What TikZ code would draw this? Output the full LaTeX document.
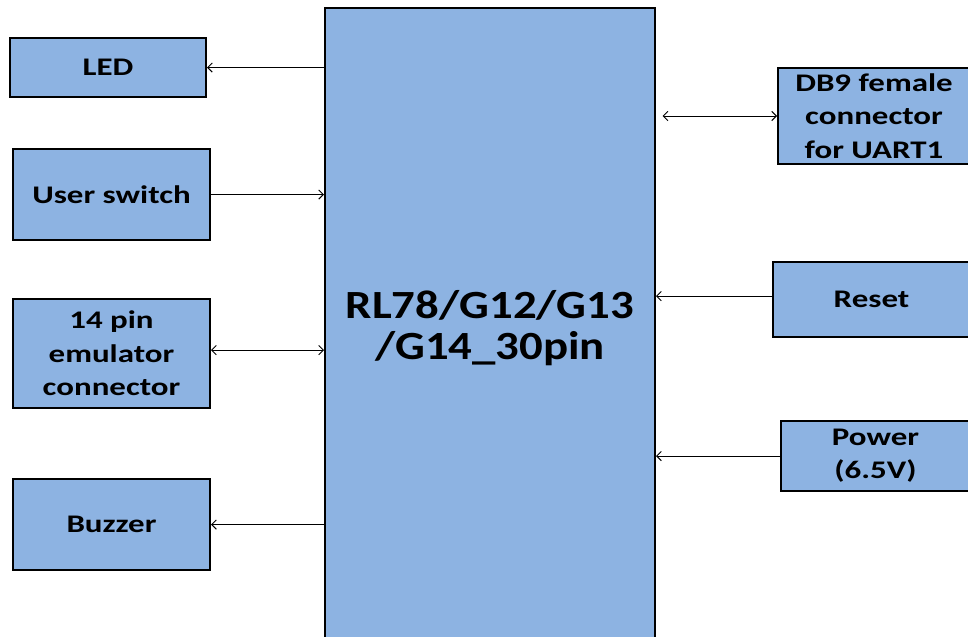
\documentclass[tikz,border=0pt]{standalone}
\usepackage{fontspec}
\setmainfont{Carlito}
\newfontfamily\boxfont[FakeStretch=1.3]{Carlito}
\newfontfamily\mcufont[FakeStretch=1.17]{Carlito}
\usetikzlibrary{positioning, arrows.meta}
\definecolor{BoxBlue}{HTML}{8DB3E2}
\tikzset{
    blockbox/.style={rectangle, draw=black, line width=1.5pt, fill=BoxBlue, align=center, inner sep=0pt, font=\boxfont\bfseries\fontsize{19}{25}\selectfont},
    mcubox/.style={blockbox, font=\mcufont\bfseries\fontsize{30}{31}\selectfont},
    link/.style={-{Straight Barb[length=3.5pt, width=7pt]}, line width=0.7pt, color=black},
    biglink/.style={{Straight Barb[length=3.5pt, width=7pt]}-{Straight Barb[length=3.5pt, width=7pt]}, line width=0.7pt, color=black},
}
\begin{document}
\begin{tikzpicture}[x=0.75pt, y=-0.75pt]
    \clip (0,0) rectangle (968,636);

    % Microcontroller
    \node[mcubox, minimum width=330*0.75pt, minimum height=640*0.75pt] (mcu) at (490,328) {RL78/G12/G13\\/G14\_30pin};

    % Left side blocks
    \node[blockbox, minimum width=196*0.75pt, minimum height=59*0.75pt] (led) at (108,67.5) {LED};
    \node[blockbox, minimum width=197*0.75pt, minimum height=91*0.75pt] (sw) at (111.5,194.5) {User switch};
    \node[blockbox, minimum width=197*0.75pt, minimum height=109*0.75pt] (emu) at (111.5,353.5) {14 pin\\emulator\\connector};
    \node[blockbox, minimum width=197*0.75pt, minimum height=91*0.75pt] (buz) at (111.5,524.5) {Buzzer};

    % Right side blocks
    \node[blockbox, minimum width=192*0.75pt, minimum height=96*0.75pt] (db9) at (874,116) {DB9 female\\connector\\for UART1};
    \node[blockbox, minimum width=197*0.75pt, minimum height=75*0.75pt] (rst) at (871.5,299.5) {Reset};
    \node[blockbox, minimum width=189*0.75pt, minimum height=70*0.75pt] (pwr) at (875.5,456) {Power\\(6.5V)};

    % Connections
    \draw[link] (mcu.west |- led.east) -- (led.east);
    \draw[link] (sw.east) -- (mcu.west |- sw.east);
    \draw[biglink] ([yshift=2.5pt]emu.east) -- ([yshift=2.5pt]mcu.west |- emu.east);
    \draw[link] (mcu.west |- buz.east) -- (buz.east);
    \draw[biglink, shorten <=5pt] (mcu.east |- db9.west) -- (db9.west);
    \draw[link] ([yshift=2.5pt]rst.west) -- ([yshift=2.5pt]mcu.east |- rst.west);
    \draw[link] (pwr.west) -- (mcu.east |- pwr.west);
\end{tikzpicture}
\end{document}
